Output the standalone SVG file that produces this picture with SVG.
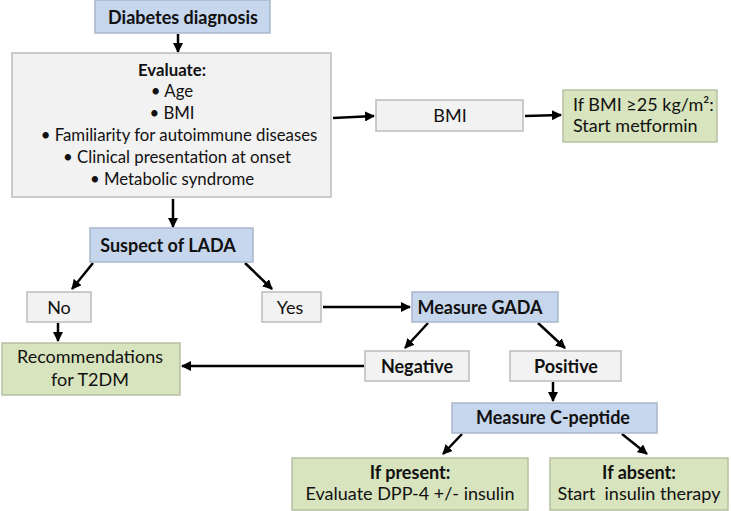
<svg xmlns="http://www.w3.org/2000/svg" width="731" height="511" viewBox="0 0 731 511">
<style>
text{font-family:Lato,"Liberation Sans",sans-serif;font-size:18px;fill:#111;text-anchor:middle}
.b{font-weight:bold}
.l{text-anchor:start}
.ev{font-size:16.8px}
.blue{fill:#c6d6ec;stroke:#a9b8cb;stroke-width:1.5}
.grey{fill:#f2f2f2;stroke:#bcbcbc;stroke-width:1.5}
.green{fill:#d8e4bd;stroke:#b6c0a2;stroke-width:1.5}
.c{stroke:#000;stroke-width:2.5;fill:none;marker-end:url(#ah)}
</style>
<defs>
<marker id="ah" viewBox="0 0 10 10" refX="9" refY="5" markerWidth="4" markerHeight="4" orient="auto" markerUnits="strokeWidth">
<path d="M0,0 L10,5 L0,10 z" fill="#000"/>
</marker>
</defs>
<rect width="731" height="511" fill="#fff"/>
<g id="connectors">
<line class="c" x1="178" y1="34" x2="178" y2="52"/>
<line class="c" x1="333" y1="118" x2="374" y2="116"/>
<line class="c" x1="525" y1="116" x2="561" y2="115"/>
<line class="c" x1="173" y1="199" x2="173" y2="227"/>
<line class="c" x1="93" y1="263" x2="72" y2="289"/>
<line class="c" x1="245" y1="263" x2="272" y2="289"/>
<line class="c" x1="58" y1="323" x2="58" y2="341"/>
<line class="c" x1="323" y1="307" x2="410" y2="307"/>
<line class="c" x1="428" y1="323" x2="405" y2="348"/>
<line class="c" x1="538" y1="323" x2="565" y2="348"/>
<line class="c" x1="364" y1="366" x2="182" y2="366"/>
<line class="c" x1="553" y1="382" x2="553" y2="401"/>
<line class="c" x1="462" y1="434" x2="443" y2="454"/>
<line class="c" x1="622" y1="434" x2="647" y2="454"/>
</g>
<g id="diabetes-diagnosis">
<rect class="blue" x="95" y="0" width="175" height="33"/>
<text class="b" x="183" y="24" font-size="20.5">Diabetes diagnosis</text>
</g>
<g id="evaluate">
<rect class="grey" x="12" y="53" width="319" height="144"/>
<text class="b ev" x="172" y="76">Evaluate:</text>
<text class="ev" x="172" y="97">•  Age</text>
<text class="ev" x="172" y="119">•  BMI</text>
<text class="ev" x="179" y="141">•  Familiarity for autoimmune diseases</text>
<text class="ev" x="177" y="163">•  Clinical presentation at onset</text>
<text class="ev" x="172" y="185">•  Metabolic syndrome</text>
</g>
<g id="bmi">
<rect class="grey" x="376" y="100" width="147" height="31"/>
<text x="450" y="122">BMI</text>
</g>
<g id="metformin">
<rect class="green" x="563" y="90" width="154" height="52"/>
<text class="l" x="573" y="111" font-size="17">If BMI ≥25 kg/m²:</text>
<text class="l" x="573" y="132" font-size="17">Start metformin</text>
</g>
<g id="suspect-lada">
<rect class="blue" x="90" y="228" width="163" height="34"/>
<text class="b" x="168" y="252" font-size="19.5">Suspect of LADA</text>
</g>
<g id="no">
<rect class="grey" x="27" y="292" width="64" height="30"/>
<text x="59" y="314">No</text>
</g>
<g id="yes">
<rect class="grey" x="262" y="292" width="59" height="30"/>
<text x="290" y="314">Yes</text>
</g>
<g id="measure-gada">
<rect class="blue" x="412" y="292" width="146" height="30"/>
<text class="b" x="480" y="314" font-size="17">Measure GADA</text>
</g>
<g id="recommendations">
<rect class="green" x="2" y="343" width="178" height="52"/>
<text x="90" y="363">Recommendations</text>
<text x="90" y="386">for T2DM</text>
</g>
<g id="negative">
<rect class="grey" x="365" y="351" width="104" height="30"/>
<text class="b" x="417" y="373">Negative</text>
</g>
<g id="positive">
<rect class="grey" x="510" y="351" width="111" height="30"/>
<text class="b" x="566" y="373">Positive</text>
</g>
<g id="measure-c-peptide">
<rect class="blue" x="452" y="403" width="205" height="30"/>
<text class="b" x="553" y="424">Measure C-peptide</text>
</g>
<g id="if-present">
<rect class="green" x="292" y="458" width="236" height="52"/>
<text class="b" x="410" y="479">If present:</text>
<text x="410" y="500">Evaluate DPP-4 +/- insulin</text>
</g>
<g id="if-absent">
<rect class="green" x="550" y="458" width="178" height="52"/>
<text class="b" x="639" y="479">If absent:</text>
<text x="639" y="500" xml:space="preserve">Start  insulin therapy</text>
</g>
</svg>
